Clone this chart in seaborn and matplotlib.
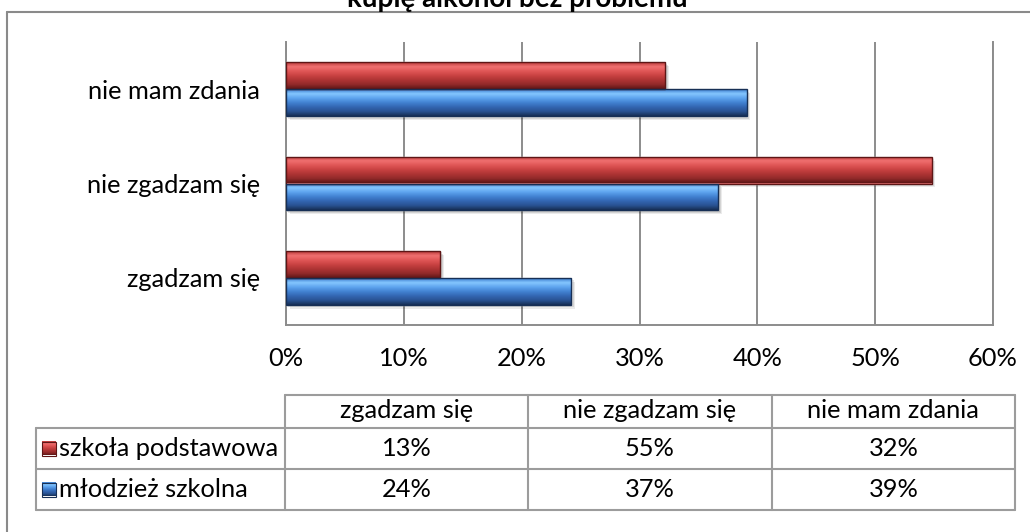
import numpy as np
import pandas as pd
import matplotlib
matplotlib.use('Agg')
import matplotlib.pyplot as plt
import seaborn as sns
from matplotlib.colors import LinearSegmentedColormap, to_rgb
from matplotlib.patches import Rectangle

# ---------------- data ----------------
title = 'kupię alkohol bez problemu'
categories = ['nie mam zdania', 'nie zgadzam się', 'zgadzam się']
series_names = ['szkoła podstawowa', 'młodzież szkolna']
szkola_podstawowa = [32.2, 54.8, 13.1]
mlodziez_szkolna = [39.1, 36.7, 24.2]
table_columns = ['zgadzam się', 'nie zgadzam się', 'nie mam zdania']
x_ticks = [0, 10, 20, 30, 40, 50, 60]
x_tick_labels = ['0%', '10%', '20%', '30%', '40%', '50%', '60%']

# ---------------- style ----------------
sns.set_style('white')
plt.rcParams['font.family'] = ['Lato', 'DejaVu Sans']
FS = 18.3
RED = '#c84040'
BLUE = '#4585d5'
red_stops = ['#b83838', '#f07070', '#e05656', '#c94242', '#ae3434', '#922a2a', '#5e1616']
blue_stops = ['#3a7bcc', '#84c6ff', '#5ea4ee', '#4282d2', '#3366b2', '#295292', '#172f55']
RED_EDGE = '#5e1616'
BLUE_EDGE = '#172f55'
GRID = '#8c8c8c'

W, H = 1030, 532
fig = plt.figure(figsize=(W / 100, H / 100), dpi=100)
fig.patch.set_facecolor('white')

df = pd.DataFrame({
    'category': categories * 2,
    'value': szkola_podstawowa + mlodziez_szkolna,
    'series': [series_names[0]] * 3 + [series_names[1]] * 3,
})

ax = fig.add_axes([286 / W, 1 - 325 / H, 707 / W, 283 / H])
sns.barplot(data=df, y='category', x='value', hue='series', orient='h',
            order=categories, hue_order=series_names, palette=[RED, BLUE],
            width=0.57, saturation=1, legend=False, ax=ax, zorder=3)


def gradient_image(stops, n=96):
    cmap = LinearSegmentedColormap.from_list('g', stops)
    return cmap(np.linspace(0, 1, n))[:, :3].reshape(n, 1, 3)


red_img = gradient_image(red_stops)
blue_img = gradient_image(blue_stops)

bars = list(ax.patches)
for p in bars:
    fc = p.get_facecolor()[:3]
    is_red = np.allclose(fc, to_rgb(RED), atol=0.02)
    img = red_img if is_red else blue_img
    edge = RED_EDGE if is_red else BLUE_EDGE
    x0, y0, w, h = p.get_x(), p.get_y(), p.get_width(), p.get_height()
    # soft shadow
    for k, a in [(0.30, 0.08), (0.20, 0.10), (0.10, 0.12)]:
        ax.add_patch(Rectangle((x0 + k, y0 + k * 0.14), w, h, facecolor='black',
                               edgecolor='none', alpha=a, zorder=2.5))
    im = ax.imshow(img, extent=(x0, x0 + w, y0 + h, y0), origin='upper',
                   aspect='auto', interpolation='bilinear', zorder=3.2)
    im.set_clip_path(p)
    ax.add_patch(Rectangle((x0, y0), w, h, fill=False, edgecolor=edge,
                           lw=1.0, zorder=3.5))

ax.set_xlim(0, 60)
ax.set_ylim(2.5, -0.5)
ax.set_xticks(x_ticks)
ax.set_xticklabels(x_tick_labels)
ax.set_xlabel('')
ax.set_ylabel('')
ax.set_axisbelow(True)
ax.xaxis.grid(True, color=GRID, lw=1.4)
ax.yaxis.grid(False)
for s in ['left', 'bottom', 'right']:
    ax.spines[s].set_visible(True)
    ax.spines[s].set_color(GRID)
    ax.spines[s].set_linewidth(1.4)
ax.spines['top'].set_visible(False)
ax.tick_params(axis='x', length=0, pad=15.5, labelsize=FS, colors='black')
ax.tick_params(axis='y', length=0, pad=18.5, labelsize=FS, colors='black')

# ---------------- overlay (frame, title, data table) ----------------
oax = fig.add_axes([0, 0, 1, 1])
oax.set_xlim(0, W)
oax.set_ylim(H, 0)
oax.axis('off')
oax.patch.set_visible(False)

FRAME = '#8a8a8a'
oax.plot([7, 7], [12, H], color=FRAME, lw=1.5)
oax.plot([7, W], [12, 12], color=FRAME, lw=1.5)
oax.text(517, 7, title, ha='center', va='baseline', fontsize=20,
         fontweight='bold', color='black')

TL = '#9c9c9c'
tx0, tx1 = 285, 1015
lx0 = 36
y_head, y_r1, y_r2, y_end = 395, 428, 469, 510
col_edges = np.linspace(tx0, tx1, len(table_columns) + 1)

oax.plot([tx0, tx1], [y_head, y_head], color=TL, lw=1.5)
for yy in [y_r1, y_r2, y_end]:
    oax.plot([lx0, tx1], [yy, yy], color=TL, lw=1.5)
oax.plot([lx0, lx0], [y_r1, y_end], color=TL, lw=1.5)
for xx in col_edges:
    oax.plot([xx, xx], [y_head, y_end], color=TL, lw=1.5)

col_centers = (col_edges[:-1] + col_edges[1:]) / 2
for cx, name in zip(col_centers, table_columns):
    oax.text(cx, (y_head + y_r1) / 2 - 1, name, ha='center', va='center',
             fontsize=FS, color='black')

series_values = [szkola_podstawowa, mlodziez_szkolna]
row_bounds = [(y_r1, y_r2), (y_r2, y_end)]
row_imgs = [red_img, blue_img]
row_edges = [RED_EDGE, BLUE_EDGE]
for vals, name, (ya, yb), img, edge in zip(series_values, series_names,
                                           row_bounds, row_imgs, row_edges):
    cy = (ya + yb) / 2
    lookup = dict(zip(categories, vals))
    for cx, col in zip(col_centers, table_columns):
        oax.text(cx, cy, f'{round(lookup[col])}%', ha='center', va='center',
                 fontsize=FS, color='black')
    mk = Rectangle((42, cy - 7), 14, 14, facecolor='none', edgecolor=edge, lw=0.8,
                   zorder=4)
    oax.add_patch(mk)
    oax.imshow(img, extent=(42, 56, cy + 7, cy - 7), origin='upper',
               aspect='auto', interpolation='bilinear', zorder=3)
    oax.text(59, cy, name, ha='left', va='center', fontsize=FS, color='black')

oax.set_xlim(0, W)
oax.set_ylim(H, 0)

fig.savefig('out.png', dpi=100, facecolor='white')
